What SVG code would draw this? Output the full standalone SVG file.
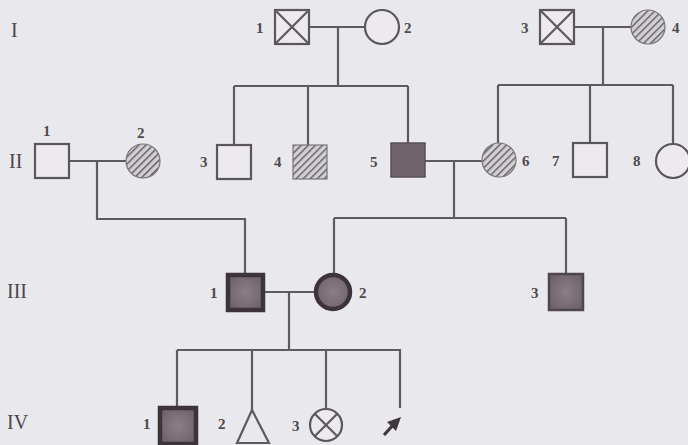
<svg xmlns="http://www.w3.org/2000/svg" width="688" height="445" viewBox="0 0 688 445">
<defs>
<pattern id="hatch" patternUnits="userSpaceOnUse" width="5" height="5" patternTransform="rotate(45)">
<rect width="5" height="5" fill="#d2d0d3"/>
<line x1="0" y1="0" x2="0" y2="5" stroke="#5f5a5f" stroke-width="2.8"/>
</pattern>
<radialGradient id="aff" cx="0.5" cy="0.5" r="0.6">
<stop offset="0" stop-color="#8a7f86"/>
<stop offset="1" stop-color="#6e6268"/>
</radialGradient>
</defs>
<style>
.bg{fill:#e9e8ec}
.ln{stroke:#5e5a5e;stroke-width:2.2;fill:none}
.sym{stroke:#5a565a;stroke-width:2.2;fill:#eceaee}
.hat{stroke:#7a767a;stroke-width:1.2;fill:url(#hatch)}
.dark{fill:#6f6469;stroke:#5a5055;stroke-width:1.5}
.thick{fill:url(#aff);stroke:#3c3438;stroke-width:4.5}
.num{font-family:"Liberation Serif",serif;font-size:15px;font-weight:bold;fill:#4e4a4e}
.gen{font-family:"Liberation Serif",serif;font-size:20px;fill:#4a464a}
</style>
<rect class="bg" width="688" height="445"/>

<g id="labels-gen">
<text class="gen" x="11" y="37">I</text>
<text class="gen" x="9" y="168">II</text>
<text class="gen" x="7" y="298">III</text>
<text class="gen" x="7" y="429">IV</text>
</g>

<g id="connectors">
<path class="ln" d="M309 27H365M338 27V86M234 86H408M234 86V145M308 86V145M408 86V143"/>
<path class="ln" d="M574 27H631M603 27V85M498 85H673M498 85V143M590 85V143M673 85V144"/>
<path class="ln" d="M69 161H126M97 161V219H245V273"/>
<path class="ln" d="M425 161H482M454 161V218M334 218H566M334 218V274M566 218V274"/>
<path class="ln" d="M263 292H315M289 292V350M177 350H401M177 350V407M252 350V410M326 350V409M400 350V408"/>
</g>

<g id="I1"><rect class="sym" x="275" y="10" width="34" height="34"/><path class="ln" d="M275 10L309 44M309 10L275 44"/><text class="num" x="256" y="33">1</text></g>
<g id="I2"><circle class="sym" cx="382" cy="27" r="17"/><text class="num" x="404" y="33">2</text></g>
<g id="I3"><rect class="sym" x="540" y="10" width="34" height="34"/><path class="ln" d="M540 10L574 44M574 10L540 44"/><text class="num" x="521" y="33">3</text></g>
<g id="I4"><circle class="hat" cx="648" cy="27" r="17"/><text class="num" x="672" y="33">4</text></g>

<g id="II1"><rect class="sym" x="35" y="144" width="34" height="34"/><text class="num" x="43" y="136">1</text></g>
<g id="II2"><circle class="hat" cx="143" cy="161" r="17"/><text class="num" x="137" y="138">2</text></g>
<g id="II3"><rect class="sym" x="217" y="145" width="34" height="34"/><text class="num" x="200" y="167">3</text></g>
<g id="II4"><rect class="hat" x="293" y="145" width="34" height="34"/><text class="num" x="274" y="167">4</text></g>
<g id="II5"><rect class="dark" x="391" y="143" width="34" height="34"/><text class="num" x="370" y="167">5</text></g>
<g id="II6"><circle class="hat" cx="499" cy="160" r="17"/><text class="num" x="522" y="166">6</text></g>
<g id="II7"><rect class="sym" x="573" y="143" width="34" height="34"/><text class="num" x="552" y="166">7</text></g>
<g id="II8"><circle class="sym" cx="673" cy="161" r="17"/><text class="num" x="633" y="166">8</text></g>

<g id="III1"><rect class="thick" x="228" y="275" width="35" height="35"/><text class="num" x="210" y="298">1</text></g>
<g id="III2"><circle class="thick" cx="333" cy="292" r="17"/><text class="num" x="359" y="298">2</text></g>
<g id="III3"><rect x="549" y="274" width="34" height="36" style="fill:url(#aff);stroke:#4e464a;stroke-width:2.5"/><text class="num" x="531" y="298">3</text></g>

<g id="IV1"><rect class="thick" x="160" y="408" width="36" height="36"/><text class="num" x="143" y="429">1</text></g>
<g id="IV2"><path class="ln" d="M252 410L237 443H269Z"/><text class="num" x="218" y="429">2</text></g>
<g id="IV3"><circle class="sym" cx="326" cy="425" r="16"/><path class="ln" d="M314.7 413.7L337.3 436.3M337.3 413.7L314.7 436.3"/><text class="num" x="292" y="431">3</text></g>
<g id="IV4"><path d="M384 435L394 424" stroke="#3e383c" stroke-width="3.2"/><path d="M401 417L387 422L396 431Z" fill="#3e383c"/></g>
</svg>
